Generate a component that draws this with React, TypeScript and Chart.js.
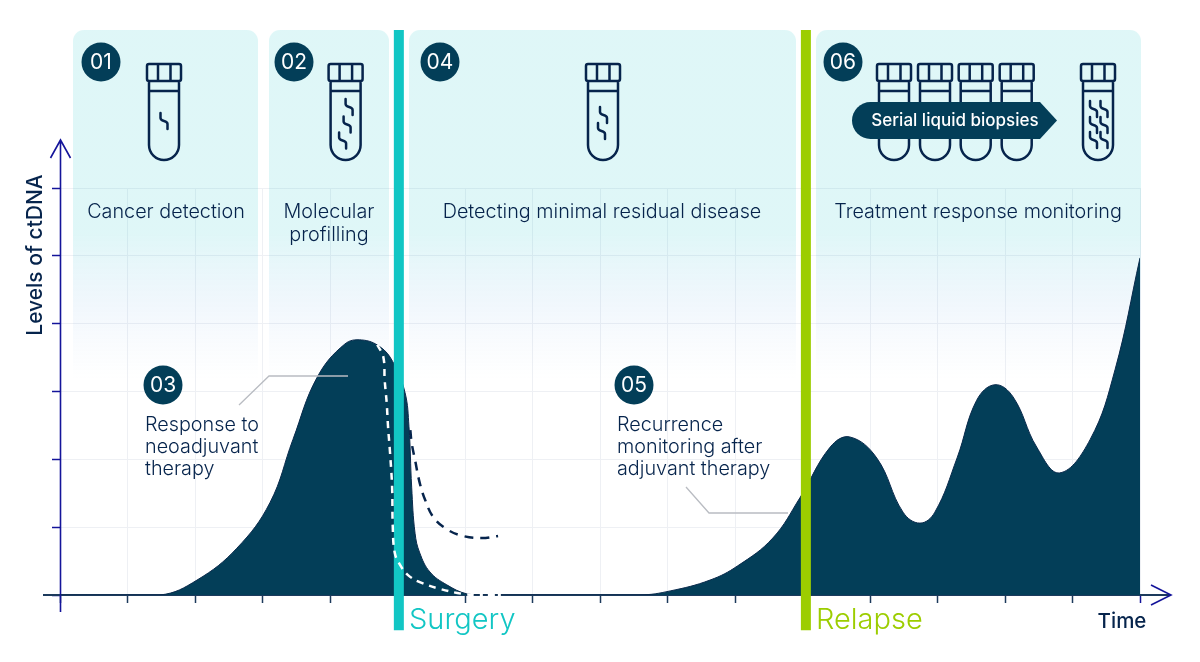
import React, { useEffect, useRef } from "react";
import { Chart, registerables } from "chart.js";

Chart.register(...registerables);

const areaTime = [0, 1.48, 2.03, 2.62, 3.11, 3.45, 3.81, 4.22, 4.47, 4.74, 4.93, 5.11, 5.17, 5.21, 5.26, 5.33, 5.48, 5.73, 6.03, 6.3, 8.59, 9.04, 9.63, 10.04, 10.56, 10.96, 11.41, 11.7, 12.1, 12.49, 12.74, 12.96, 13.29, 13.58, 13.85, 14.12, 14.47, 14.81, 15.26, 15.63, 16];
const areaLevel = [0, 0, 0.22, 0.69, 1.36, 2.29, 3.21, 3.7, 3.76, 3.66, 3.44, 2.99, 2.48, 1.59, 0.91, 0.62, 0.34, 0.15, 0.015, 0, 0, 0.06, 0.22, 0.43, 0.84, 1.43, 2.18, 2.33, 2.02, 1.22, 1.06, 1.22, 2.02, 2.87, 3.1, 2.92, 2.18, 1.8, 2.29, 3.32, 4.97];
const whiteTime = [4.7, 4.79, 4.81, 4.84, 4.86, 4.89, 4.92, 4.93, 4.96, 5.04, 5.16, 5.33, 5.63, 5.97, 6.18];
const whiteLevel = [3.69, 3.51, 3.17, 2.83, 2.48, 2.09, 1.59, 1.0, 0.62, 0.44, 0.29, 0.19, 0.09, 0.015, 0];
const darkTime = [5.19, 5.21, 5.26, 5.33, 5.41, 5.53, 5.73, 5.97, 6.25, 6.49];
const darkLevel = [2.43, 2.24, 1.99, 1.65, 1.4, 1.15, 0.97, 0.87, 0.84, 0.87];
const tailTime = [6.22, 6.58];
const tailLevel = [0, 0];
const surgeryTime = 5.02;
const relapseTime = 11.05;
const eventRange = [-0.52, 8.33];

const yAxisTitle = "Levels of ctDNA";
const xAxisTitle = "Time";
const stageTexts = ["Cancer detection", "Molecular\nprofilling", "Detecting minimal residual disease", "Treatment response monitoring"];
const badgeTexts = ["01", "02", "04", "06", "03", "05"];
const noteTexts = ["Response to\nneoadjuvant\ntherapy", "Recurrence\nmonitoring after\nadjuvant therapy"];
const eventTexts = ["Surgery", "Relapse"];
const arrowText = "Serial liquid biopsies";

const NAVY = "#033e58";
const INK = "#06244c";
const BLUE = "#14149a";
const FONT = "Inter, 'Noto Sans', sans-serif";

const toPts = (xs: number[], ys: number[]) => xs.map((x, i) => ({ x, y: ys[i] }));

const strand = (c: CanvasRenderingContext2D, x: number, y: number) => {
  c.beginPath();
  c.moveTo(x - 3.5, y - 8);
  c.lineTo(x - 3.5, y - 3);
  c.bezierCurveTo(x - 3.5, y + 1, x + 3.5, y - 1, x + 3.5, y + 3);
  c.lineTo(x + 3.5, y + 8);
  c.stroke();
};

const tube = (c: CanvasRenderingContext2D, cx: number, strands: number[][]) => {
  c.strokeStyle = INK;
  c.lineWidth = 2.5;
  c.lineJoin = "round";
  c.lineCap = "round";
  c.beginPath();
  c.roundRect(cx - 17, 64, 34, 17, 2);
  c.moveTo(cx - 6, 64);
  c.lineTo(cx - 6, 81);
  c.moveTo(cx + 6.5, 64);
  c.lineTo(cx + 6.5, 81);
  c.moveTo(cx - 15, 81);
  c.lineTo(cx - 15, 145);
  c.arc(cx, 145, 15, Math.PI, 0, true);
  c.lineTo(cx + 15, 81);
  c.moveTo(cx - 15, 91);
  c.lineTo(cx + 15, 91);
  c.stroke();
  strands.forEach(([dx, y]) => strand(c, cx + dx, y));
};

const multiline = (c: CanvasRenderingContext2D, text: string, x: number, y: number, lh: number) => {
  text.split("\n").forEach((t, i) => c.fillText(t, x, y + i * lh));
};

const decor = {
  id: "decor",
  beforeDatasetsDraw(chart: any) {
    const c: CanvasRenderingContext2D = chart.ctx;
    c.save();
    const g = c.createLinearGradient(0, 30, 0, 380);
    g.addColorStop(0, "rgba(0,190,195,0.125)");
    g.addColorStop(0.58, "rgba(0,190,195,0.125)");
    g.addColorStop(0.8, "rgba(70,150,225,0.07)");
    g.addColorStop(1, "rgba(120,170,230,0)");
    c.fillStyle = g;
    [[73, 258], [269, 389], [409, 796], [816, 1141]].forEach(([a, b]) => {
      c.beginPath();
      c.roundRect(a, 30, b - a, 350, [11, 11, 0, 0]);
      c.fill();
    });

    // axes extensions and arrowheads
    c.lineCap = "butt";
    c.lineJoin = "miter";
    c.strokeStyle = "#1c3a5c";
    c.lineWidth = 2;
    c.beginPath();
    c.moveTo(43, 595);
    c.lineTo(1170, 595);
    c.stroke();
    c.strokeStyle = BLUE;
    c.lineWidth = 1.6;
    c.beginPath();
    c.moveTo(60.5, 612);
    c.lineTo(60.5, 140);
    c.moveTo(50.5, 158);
    c.lineTo(60.5, 140);
    c.lineTo(70.5, 158);
    c.moveTo(1151, 585);
    c.lineTo(1171, 595);
    c.lineTo(1151, 605);
    c.stroke();
    c.restore();
  },
  afterDraw(chart: any) {
    const c: CanvasRenderingContext2D = chart.ctx;
    c.save();

    // leader lines
    c.lineCap = "butt";
    c.lineJoin = "miter";
    c.strokeStyle = "#b9bcc2";
    c.lineWidth = 1.3;
    c.beginPath();
    c.moveTo(348, 376);
    c.lineTo(269, 376);
    c.lineTo(239, 405);
    c.moveTo(788, 513);
    c.lineTo(709, 513);
    c.lineTo(686, 487);
    c.stroke();

    // tubes
    tube(c, 164, [[0, 121]]);
    tube(c, 345.6, [[3.5, 107], [1.5, 124.5], [-3, 140.5]]);
    tube(c, 603, [[0.5, 115], [-1.5, 131]]);
    tube(c, 894, []);
    tube(c, 935, []);
    tube(c, 975.7, []);
    tube(c, 1016.7, []);
    tube(c, 1098, [[-4.5, 109], [6, 109], [-4.5, 125], [6, 125], [-4.5, 140], [6, 140]]);

    // serial arrow
    c.fillStyle = NAVY;
    c.beginPath();
    c.moveTo(1040, 102);
    c.lineTo(1057, 120.5);
    c.lineTo(1040, 139);
    c.lineTo(870.5, 139);
    c.arc(870.5, 120.5, 18.5, Math.PI / 2, -Math.PI / 2);
    c.closePath();
    c.fill();
    c.fillStyle = "#fff";
    c.font = `500 17px ${FONT}`;
    c.textAlign = "center";
    c.textBaseline = "middle";
    c.fillText(arrowText, 955, 121);

    // badges
    [[101, 62], [294, 62], [440, 62], [843, 62], [163, 385], [634, 385]].forEach(([x, y], i) => {
      c.fillStyle = NAVY;
      c.beginPath();
      c.arc(x, y, 19.5, 0, Math.PI * 2);
      c.fill();
      c.fillStyle = "#fff";
      c.font = `400 21px ${FONT}`;
      c.fillText(badgeTexts[i], x, y + 0.5);
    });

    // stage captions
    c.fillStyle = INK;
    c.font = `300 19.8px ${FONT}`;
    [[166, 212], [329, 212], [602, 212], [978, 212]].forEach(([x, y], i) => {
      multiline(c, stageTexts[i], x, y, 23);
    });

    // notes
    c.textAlign = "left";
    multiline(c, noteTexts[0], 145, 425, 22);
    multiline(c, noteTexts[1], 617, 425, 22);

    // event labels
    c.font = `300 29px ${FONT}`;
    c.fillStyle = "#12c6c4";
    c.fillText(eventTexts[0], 409, 620);
    c.fillStyle = "#9ccd00";
    c.fillText(eventTexts[1], 816, 620);

    // axis titles
    c.fillStyle = INK;
    c.font = `500 20.5px ${FONT}`;
    c.textAlign = "center";
    c.fillText(xAxisTitle, 1122, 622);
    c.font = `500 21px ${FONT}`;
    c.translate(36, 255);
    c.rotate(-Math.PI / 2);
    c.fillText(yAxisTitle, 0, 0);
    c.restore();
  },
};

export default function App() {
  const ref = useRef<HTMLCanvasElement>(null);
  useEffect(() => {
    if (!ref.current) return;
    const chart = new Chart(ref.current, {
      type: "line",
      data: {
        datasets: [
          {
            label: "Tail",
            data: toPts(tailTime, tailLevel),
            borderColor: "#ffffff",
            borderWidth: 3,
            borderDash: [3, 5, 7, 3],
            pointRadius: 0,
            clip: false,
            order: 0,
          },
          {
            label: "Response",
            data: toPts(whiteTime, whiteLevel),
            borderColor: "#ffffff",
            borderWidth: 2.5,
            borderDash: [7, 6],
            pointRadius: 0,
            tension: 0.4,
            clip: false,
            order: 1,
          },
          {
            label: "Without surgery",
            data: toPts(darkTime, darkLevel),
            borderColor: INK,
            borderWidth: 2.5,
            borderDash: [9, 7],
            pointRadius: 0,
            tension: 0.4,
            clip: false,
            order: 2,
          },
          {
            label: "Surgery",
            data: eventRange.map((y) => ({ x: surgeryTime, y })),
            borderColor: "#12c6c4",
            borderWidth: 10,
            pointRadius: 0,
            clip: false,
            order: 3,
          },
          {
            label: "Relapse",
            data: eventRange.map((y) => ({ x: relapseTime, y })),
            borderColor: "#9ccd00",
            borderWidth: 10,
            pointRadius: 0,
            clip: false,
            order: 4,
          },
          {
            label: "ctDNA",
            data: toPts(areaTime, areaLevel),
            borderColor: "#0a2a4c",
            borderWidth: 1,
            backgroundColor: NAVY,
            fill: "origin",
            pointRadius: 0,
            tension: 0.4,
            order: 5,
          },
        ],
      },
      options: {
        responsive: false,
        animation: false,
        layout: { padding: { left: 52, right: 60, top: 188, bottom: 59 } },
        plugins: { legend: { display: false }, tooltip: { enabled: false } },
        scales: {
          x: {
            type: "linear",
            min: 0,
            max: 16,
            ticks: { display: false, stepSize: 1 },
            grid: {
              color: "#eef0f4",
              lineWidth: 1,
              tickColor: (ctx: any) => (ctx.tick && ctx.tick.value === 16 ? BLUE : "#1c3a5c"),
              tickWidth: 1.5,
              tickLength: 8,
              drawTicks: true,
            },
            border: { display: false },
          },
          y: {
            type: "linear",
            min: 0,
            max: 6,
            ticks: { display: false, stepSize: 1 },
            grid: { color: "#eef0f4", lineWidth: 1, tickColor: BLUE, tickWidth: 1.5, tickLength: 8, drawTicks: true },
            border: { display: false },
          },
        },
      },
      plugins: [decor],
    } as any);
    return () => chart.destroy();
  }, []);
  return (
    <div style={{ position: "absolute", left: 0, top: 0, width: 1200, height: 662, background: "#fff" }}>
      <canvas ref={ref} width={1200} height={662} style={{ display: "block" }} />
    </div>
  );
}
